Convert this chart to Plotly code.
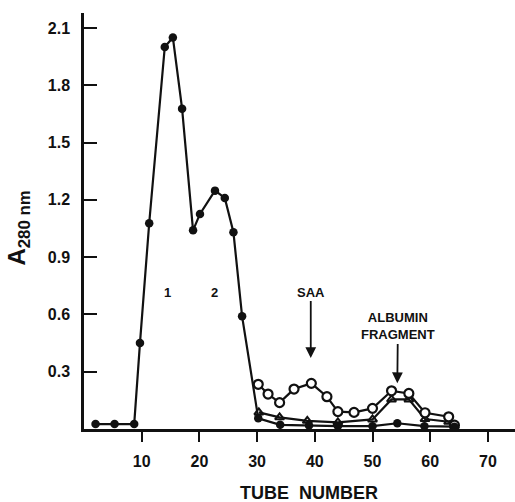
import plotly.graph_objects as go

# Total absorbance (filled circles)
tube_total = [2, 5.3, 8.7, 9.7, 11.3, 14.0, 15.4, 17.0, 18.9, 20.1, 22.7, 24.4, 25.9, 27.4, 30.2, 34.0, 39.0, 44.0, 50.0, 54.3, 59.0, 64.2]
a_total = [0.026, 0.026, 0.026, 0.45, 1.077, 2.0, 2.05, 1.677, 1.04, 1.126, 1.248, 1.21, 1.03, 0.59, 0.056, 0.022, 0.018, 0.015, 0.015, 0.03, 0.015, 0.012]

# Open circles series
tube_open = [30.2, 31.9, 33.9, 36.4, 39.4, 42.1, 44.0, 46.8, 50.0, 53.3, 56.3, 59.1, 63.2, 64.2]
a_open = [0.234, 0.183, 0.138, 0.209, 0.239, 0.169, 0.091, 0.087, 0.108, 0.200, 0.186, 0.085, 0.064, 0.02]

# Open triangles series
tube_tri = [30.3, 33.9, 38.7, 44.0, 50.0, 53.3, 56.3, 59.1, 63.2, 64.2]
a_tri = [0.087, 0.061, 0.043, 0.035, 0.05, 0.155, 0.155, 0.052, 0.038, 0.015]

x_ticks = [10, 20, 30, 40, 50, 60, 70]
y_ticks = [0.3, 0.6, 0.9, 1.2, 1.5, 1.8, 2.1]
y_tick_text = ["0.3", "0.6", "0.9", "1.2", "1.5", "1.8", "2.1"]

FONT = "Liberation Sans"
BLACK = "#111111"

fig = go.Figure()
fig.add_trace(go.Scatter(x=tube_tri, y=a_tri, mode="lines+markers",
                         line=dict(color=BLACK, width=2.2),
                         marker=dict(symbol="triangle-up-open", size=8, color=BLACK, line=dict(width=2)),
                         showlegend=False))
fig.add_trace(go.Scatter(x=tube_open, y=a_open, mode="lines+markers",
                         line=dict(color=BLACK, width=2.2),
                         marker=dict(symbol="circle", size=9, color="white", line=dict(width=2.2, color=BLACK)),
                         showlegend=False))
fig.add_trace(go.Scatter(x=tube_total, y=a_total, mode="lines+markers",
                         line=dict(color=BLACK, width=2.2),
                         marker=dict(symbol="circle", size=8.5, color=BLACK),
                         showlegend=False))

W, H = 515, 502
L, R, T, B = 84, 0, 13, 73
pw = W - L - R
ph = H - T - B

def px(xp):
    return (xp - L) / pw

def py(yp):
    return (H - B - yp) / ph

annotations = []
lab_font = dict(family=FONT, size=13, color=BLACK, weight="bold")
annotations.append(dict(x=14.5, y=0.717, xref="x", yref="y", text="1", showarrow=False, font=lab_font))
annotations.append(dict(x=22.6, y=0.717, xref="x", yref="y", text="2", showarrow=False, font=lab_font))
small_font = dict(family=FONT, size=13, color=BLACK, weight="bold")
annotations.append(dict(x=39.3, y=0.372, ax=39.3, ay=0.717, xref="x", yref="y", axref="x", ayref="y",
                        text="SAA", showarrow=True, arrowhead=2, arrowsize=1.2, arrowwidth=1.8,
                        arrowcolor=BLACK, font=small_font))
annotations.append(dict(x=54.3, y=0.24, ax=54.4, ay=0.537, xref="x", yref="y", axref="x", ayref="y",
                        text="ALBUMIN<br>FRAGMENT", showarrow=True, arrowhead=2, arrowsize=1.2, arrowwidth=1.8,
                        arrowcolor=BLACK, font=small_font))
annotations.append(dict(x=px(309), y=py(493), xref="paper", yref="paper", xanchor="center", yanchor="middle",
                        text="TUBE  NUMBER",
                        showarrow=False, font=dict(family=FONT, size=18, color=BLACK, weight="bold")))

fig.update_layout(
    width=W, height=H,
    margin=dict(l=L, r=R, t=T, b=B),
    paper_bgcolor="white", plot_bgcolor="white",
    annotations=annotations,
    xaxis=dict(range=[0, pw / 5.77], tickvals=x_ticks, ticks="outside", ticklen=10, tickwidth=2,
               tickcolor=BLACK, showline=True, linecolor=BLACK, linewidth=2.5, showgrid=False, zeroline=False,
               automargin=False,
               tickfont=dict(family=FONT, size=16, color=BLACK, weight="bold"), ticklabelstandoff=6),
    yaxis=dict(range=[0, ph / 191.0], tickvals=y_ticks, ticktext=y_tick_text, ticks="inside", ticklen=13,
               tickwidth=2, tickcolor=BLACK, showline=True, linecolor=BLACK, linewidth=2.5, showgrid=False,
               zeroline=False, automargin=False,
               title=dict(text="A<sub>280 nm&nbsp;&nbsp;&nbsp;</sub>", standoff=16,
                          font=dict(family=FONT, size=24, color=BLACK, weight="bold")),
               tickfont=dict(family=FONT, size=16, color=BLACK, weight="bold"),
               ticklabelstandoff=8),
)

fig.write_html("out.html", config={"displayModeBar": False},
               post_script="document.body.style.margin='0px';document.body.style.overflow='hidden';")
